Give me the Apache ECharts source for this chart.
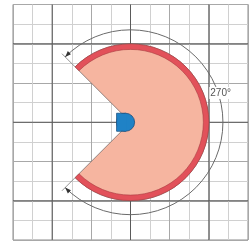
<!DOCTYPE html>
<html>
<head>
<meta charset="utf-8">
<script src="https://cdn.jsdelivr.net/npm/echarts@6/dist/echarts.min.js"></script>
<style>
  html, body { margin: 0; padding: 0; background: #fff; }
  #chart { width: 250px; height: 243px; }
</style>
</head>
<body>
<div id="chart"></div>
<script>
// grid extent (in grid cells) and the heavy lines every 4 cells
const xRange = [-6, 6];
const yRange = [-6, 6];
const majorLines = [-4, 0, 4];

// sector: start angle (deg, counter-clockwise from +x) and clockwise sweep
const sectorStart = 135;
const sectorSweep = 270;
const sectorRadius = 4;
const rimInner = 3.72;

// dimension arc and its label
const dimRadius = 4.72;
const extEnd = 4.95;
const dimLabel = '270°';
const labelAngle = 18;

// pivot marker
const pivotCenter = [-0.25, 0];
const pivotRadius = 0.46;

const chart = echarts.init(document.getElementById('chart'));

function deg(a) { return a * Math.PI / 180; }

function renderItem(params, api) {
    const c = api.coord([0, 0]);
    const unit = api.size([1, 1])[0];
    const pt = (a, r) => [c[0] + r * unit * Math.cos(deg(a)), c[1] - r * unit * Math.sin(deg(a))];
    const children = [];

    // heavy grid lines
    majorLines.forEach((v) => {
        const a = api.coord([v, yRange[0]]), b = api.coord([v, yRange[1]]);
        children.push({ type: 'line', shape: { x1: a[0], y1: a[1], x2: b[0], y2: b[1] },
            style: { stroke: '#5a5a5a', lineWidth: 1 } });
        const d = api.coord([xRange[0], v]), e = api.coord([xRange[1], v]);
        children.push({ type: 'line', shape: { x1: d[0], y1: d[1], x2: e[0], y2: e[1] },
            style: { stroke: '#5a5a5a', lineWidth: 1 } });
    });

    const sStart = -deg(sectorStart);
    const sEnd = -deg(sectorStart - sectorSweep);

    // pink body
    children.push({ type: 'sector',
        shape: { cx: c[0], cy: c[1], r: sectorRadius * unit, r0: 0, startAngle: sStart, endAngle: sEnd, clockwise: true },
        style: { fill: '#f6b5a0', stroke: '#7a6a66', lineWidth: 0.8 } });
    // red rim
    children.push({ type: 'sector',
        shape: { cx: c[0], cy: c[1], r: sectorRadius * unit, r0: rimInner * unit, startAngle: sStart, endAngle: sEnd, clockwise: true },
        style: { fill: '#e2515a', stroke: '#a83a40', lineWidth: 0.6 } });

    // extension lines
    [sectorStart, sectorStart - sectorSweep].forEach((a) => {
        const p = pt(a, sectorRadius), q = pt(a, extEnd);
        children.push({ type: 'line', shape: { x1: p[0], y1: p[1], x2: q[0], y2: q[1] },
            style: { stroke: '#777', lineWidth: 0.8 } });
    });

    // dimension arc
    children.push({ type: 'arc',
        shape: { cx: c[0], cy: c[1], r: dimRadius * unit, startAngle: sStart, endAngle: sEnd, clockwise: true },
        style: { stroke: '#6a6a6a', lineWidth: 1, fill: null } });

    // arrowheads pointing away from the arc body
    [[sectorStart, 1], [sectorStart - sectorSweep, -1]].forEach(([a, s]) => {
        const p = pt(a, dimRadius);
        const r = deg(a);
        const tx = -Math.sin(r) * s, ty = -Math.cos(r) * s;
        const nx = -ty, ny = tx;
        const len = 6, w = 2.2;
        children.push({ type: 'polygon',
            shape: { points: [
                [p[0], p[1]],
                [p[0] - tx * len + nx * w, p[1] - ty * len + ny * w],
                [p[0] - tx * len - nx * w, p[1] - ty * len - ny * w]
            ] },
            style: { fill: '#333' } });
    });

    // label
    const lp = pt(labelAngle, dimRadius + 0.12);
    children.push({ type: 'text',
        style: { text: dimLabel, x: lp[0], y: lp[1], fill: '#555', fontSize: 10,
            fontFamily: 'Liberation Sans, Arial, sans-serif', align: 'center', verticalAlign: 'middle',
            backgroundColor: '#fff', padding: [1, 1] } });

    // pivot marker: square left half + round right half
    const pc = api.coord(pivotCenter);
    const pr = pivotRadius * unit;
    children.push({ type: 'rect', shape: { x: pc[0] - pr, y: pc[1] - pr, width: pr, height: pr * 2 },
        style: { fill: '#1f82c6', stroke: '#1b4f7e', lineWidth: 0.8 } });
    children.push({ type: 'circle', shape: { cx: pc[0], cy: pc[1], r: pr },
        style: { fill: '#1f82c6', stroke: '#1b4f7e', lineWidth: 0.8 } });
    children.push({ type: 'rect', shape: { x: pc[0] - pr + 0.6, y: pc[1] - pr + 0.6, width: pr, height: pr * 2 - 1.2 },
        style: { fill: '#1f82c6' } });

    return { type: 'group', children: children };
}

const option = {
    animation: false,
    grid: { left: 13, right: 2, top: 4.5, bottom: 3, show: true, borderColor: '#8c8c8c', borderWidth: 1 },
    xAxis: {
        type: 'value', min: xRange[0], max: xRange[1], interval: 2,
        axisLine: { show: false }, axisTick: { show: false }, axisLabel: { show: false },
        splitLine: { show: true, lineStyle: { color: '#a8a8a8', width: 1 } },
        minorTick: { show: false, splitNumber: 2 },
        minorSplitLine: { show: true, lineStyle: { color: '#d0d0d0', width: 1 } }
    },
    yAxis: {
        type: 'value', min: yRange[0], max: yRange[1], interval: 2,
        axisLine: { show: false }, axisTick: { show: false }, axisLabel: { show: false },
        splitLine: { show: true, lineStyle: { color: '#a8a8a8', width: 1 } },
        minorTick: { show: false, splitNumber: 2 },
        minorSplitLine: { show: true, lineStyle: { color: '#d0d0d0', width: 1 } }
    },
    series: [{
        type: 'custom',
        coordinateSystem: 'cartesian2d',
        clip: false,
        silent: true,
        data: [[0, 0]],
        renderItem: renderItem
    }]
};

chart.setOption(option);
</script>
</body>
</html>
